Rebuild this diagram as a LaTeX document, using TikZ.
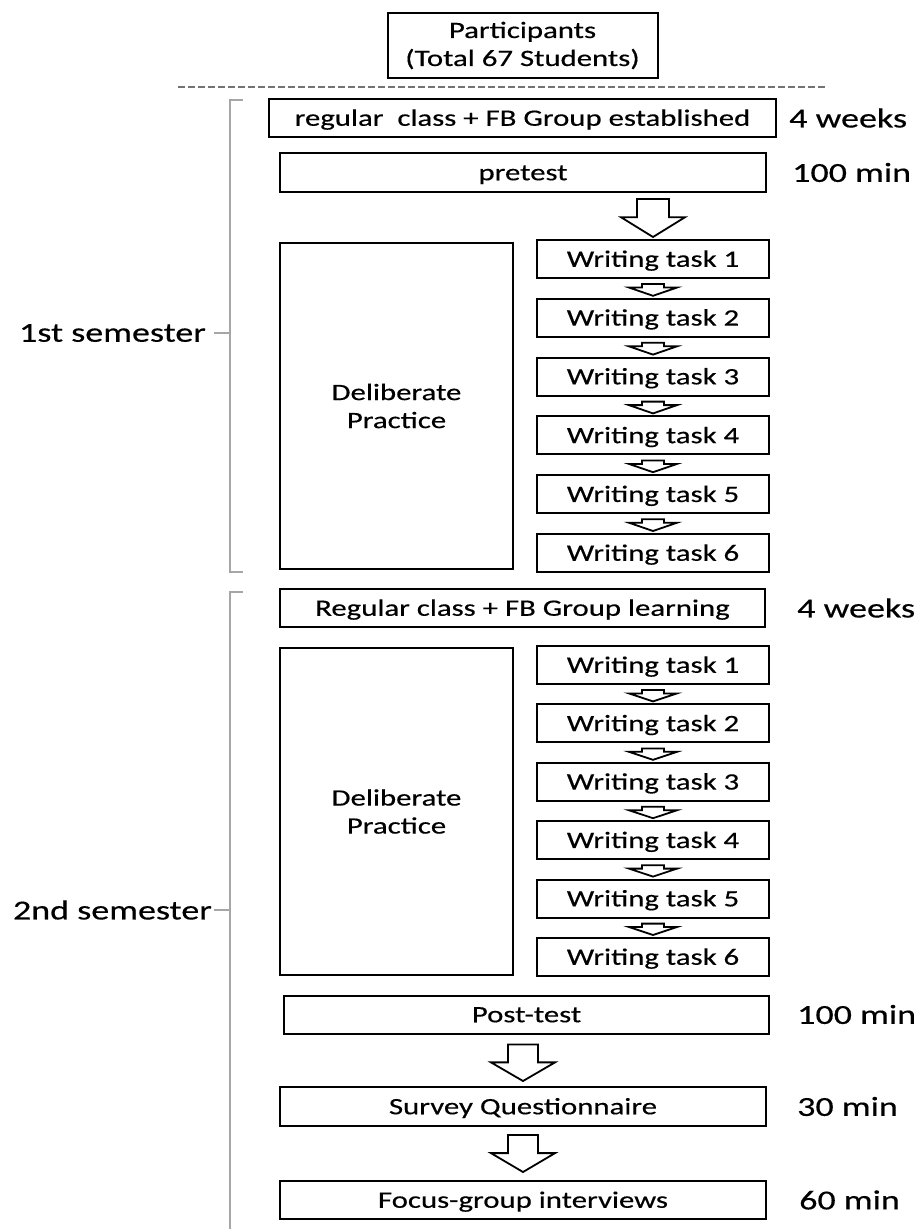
\documentclass[tikz,border=0pt]{standalone}
\usepackage{fontspec}
\setmainfont{Carlito}[FakeStretch=1.31,FakeBold=0.4]
\usetikzlibrary{calc}
\usetikzlibrary{positioning}
\newcommand{\hollowarrow}[5]{%
\draw[blockarrow] let \p1=#1, \p2=#2, \n1={#3*((\y1)-(\y2))} in
(\x1-#4pt,\y1) -- (\x1+#4pt,\y1) -- (\x1+#4pt,\y1-\n1) -- (\x1+#5pt,\y1-\n1) --
(\x1,\y2) -- (\x1-#5pt,\y1-\n1) -- (\x1-#4pt,\y1-\n1) -- cycle;}

\begin{document}
\begin{tikzpicture}[x=1pt,y=-1pt,font=\fontsize{23.5}{28}\selectfont,
stage/.style={draw,line width=2pt,inner sep=0pt,minimum height=38pt},
mid/.style={text height=15.5pt,text depth=0pt},
timing/.style={inner sep=0pt,font=\fontsize{27.5}{32}\selectfont},
blockarrow/.style={draw,line width=1.8pt,fill=white,line join=miter},
semline/.style={draw=gray!70,line width=1.6pt}]
\useasboundingbox (0,0) rectangle (916,1229);
\node (p0) at (522.5,45.5) [stage,minimum width=270pt,minimum height=65pt,align=center] {Participants\\(Total 67 Students)};
\coordinate (d0) at (178,87);
\coordinate (d1) at (826,87);
\draw[gray!90!black,line width=1.3pt,dash pattern=on 7pt off 3pt] (d0) -- (d1);
\node (est) at (522.5,118) [stage,mid,minimum width=507pt] {regular\ \ class + FB Group established};
\node (w1) [timing,right=12pt of est] {4 weeks};
\node (pre) at (523,172.5) [stage,mid,minimum width=486pt,minimum height=39pt] {pretest};
\node (m1) [timing,right=25pt of pre] {100 min};
\node (dp1) at (396.5,406) [stage,minimum width=233pt,minimum height=326pt,align=center] {Deliberate\\Practice};
\foreach \z in {1,...,6} {
\node (a\z) at (653,{259+58.8*(\z-1)}) [stage,mid,minimum width=232pt] {Writing task \z};
}
\hollowarrow{($(a1.north |- pre.south)+(0,6)$)}{($(a1.north)+(0,-2)$)}{0.48}{16}{32}
\foreach \z [count=\k from 2] in {1,...,5} {
\hollowarrow{($(a\z.south)+(0,5)$)}{($(a\k.north)+(0,-2)$)}{0.3}{11}{24}
}
\coordinate (s1top) at (243,100);
\coordinate (s1bot) at (243,572);
\node (sem1) at (206,333) [timing,anchor=east] {1st semester};
\draw[semline] (s1top) -- ++(-13,0) -- ($(s1bot)+(-13,0)$) -- (s1bot);
\draw[semline] (sem1.east) ++(8,0) -- ++(16,0);
\node (learn) at (522.5,608) [stage,mid,minimum width=485pt] {Regular class + FB Group learning};
\node (w2) [timing,right=31pt of learn] {4 weeks};
\node (dp2) at (396.5,811.5) [stage,minimum width=233pt,minimum height=327pt,align=center] {Deliberate\\Practice};
\foreach \z in {1,...,6} {
\node (b\z) at (653,{665+58.4*(\z-1)}) [stage,mid,minimum width=232pt] {Writing task \z};
}
\foreach \z [count=\k from 2] in {1,...,5} {
\hollowarrow{($(b\z.south)+(0,5)$)}{($(b\k.north)+(0,-2)$)}{0.3}{11}{24}
}
\node (post) at (526.5,1014.5) [stage,mid,minimum width=485pt] {Post-test};
\node (m2) [timing,right=27pt of post] {100 min};
\node (survey) at (523,1106.5) [stage,mid,minimum width=486pt,minimum height=39pt] {Survey Questionnaire};
\node (m3) [timing,right=30pt of survey] {30 min};
\node (focus) at (523,1200) [stage,mid,minimum width=486pt] {Focus-group interviews};
\node (m4) [timing,right=32pt of focus] {60 min};
\hollowarrow{($(post.south -| survey.north)+(0,10)$)}{($(survey.north)+(0,-5)$)}{0.49}{15}{32}
\hollowarrow{($(survey.south)+(0,8)$)}{($(focus.north)+(0,-8)$)}{0.49}{15}{32}
\coordinate (s2top) at (243,592);
\coordinate (s2bot) at (230,1240);
\node (sem2) at (212,910) [timing,anchor=east] {2nd semester};
\draw[semline] (s2top) -- ++(-13,0) -- (s2bot);
\draw[semline] (sem2.east) ++(2,0) -- ++(16,0);
\end{tikzpicture}
\end{document}
